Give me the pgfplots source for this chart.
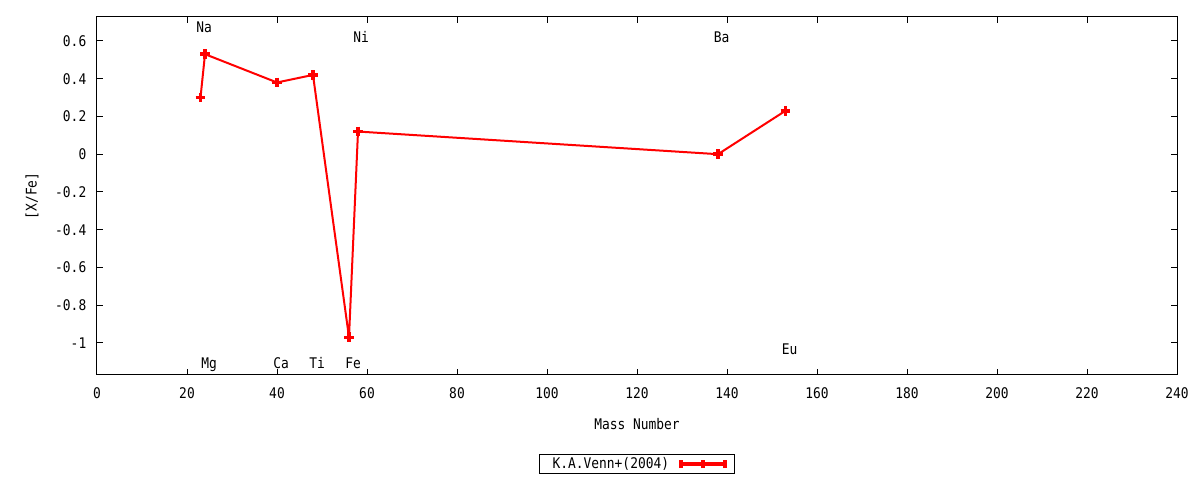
\documentclass[border=0pt]{standalone}
\usepackage{fontspec}
\setmonofont{DejaVu Sans Mono}[FakeStretch=0.88]
\usepackage{pgfplots}
\pgfplotsset{compat=1.18}
\begin{document}
\begin{tikzpicture}[font=\ttfamily\fontsize{11}{13}\selectfont]
\begin{axis}[
    name=ax,
    scale only axis,
    width=810pt, height=268.5pt,
    xmin=0, xmax=240,
    ymin=-1.17, ymax=0.727,
    xtick={0,20,40,60,80,100,120,140,160,180,200,220,240},
    xticklabels={0,20,40,60,80,100,120,140,160,180,200,220,240},
    ytick={-1,-0.8,-0.6,-0.4,-0.2,0,0.2,0.4,0.6},
    yticklabels={-1,-0.8,-0.6,-0.4,-0.2,0,0.2,0.4,0.6},
    tick align=inside,
    major tick length=4.5pt,
    axis line style={line width=0.75pt},
    every tick/.style={black, line width=0.75pt},
    xticklabel style={anchor=base, yshift=-18pt},
    yticklabel style={anchor=east, xshift=-4.5pt},
    xlabel={Mass Number},
    ylabel={[X/Fe]},
    every axis x label/.style={at={(axis description cs:0.5,-0.137)}, anchor=center},
    every axis y label/.style={at={(axis description cs:-0.0602,0.5)}, anchor=center, rotate=90},
    legend plot pos=right,
    legend style={at={(axis description cs:0.5,-0.249)}, anchor=center,
        draw=black, line width=0.75pt, inner xsep=6pt, inner ysep=0.5pt,
        nodes={inner ysep=1.5pt, inner xsep=4pt}},
    legend image code/.code={
        \path[draw=none] (0pt,0pt) rectangle (38pt,0pt);
        \draw[red, line width=2.5pt] (5pt,0pt) -- (38pt,0pt);
        \draw[red, line width=2.5pt] (5pt,-3pt) -- (5pt,3pt);
        \draw[red, line width=2.5pt] (21.5pt,-3pt) -- (21.5pt,3pt);
        \draw[red, line width=2.5pt] (38pt,-3pt) -- (38pt,3pt);
    },
]
\addplot[red, line width=1.5pt, mark=+, mark size=3.6pt,
    mark options={line width=2.6pt}] coordinates {
    (23, 0.30)
    (24, 0.53)
    (40, 0.38)
    (48, 0.42)
    (56, -0.97)
    (58, 0.12)
    (138, 0.00)
    (153, 0.23)
};
\addlegendentry{K.A.Venn+(2004)}

% element labels
\node[anchor=base] at (axis cs:23.8,0.644) {Na};
\node[anchor=base] at (axis cs:24.9,-1.138) {Mg};
\node[anchor=base] at (axis cs:40.9,-1.138) {Ca};
\node[anchor=base] at (axis cs:48.9,-1.138) {Ti};
\node[anchor=base] at (axis cs:56.9,-1.138) {Fe};
\node[anchor=base] at (axis cs:58.7,0.591) {Ni};
\node[anchor=base] at (axis cs:138.8,0.591) {Ba};
\node[anchor=base] at (axis cs:153.9,-1.064) {Eu};
\end{axis}
\pgfresetboundingbox
\path ([shift={(-72.75pt,-78.75pt)}]ax.south west) rectangle ([shift={(17.25pt,12.75pt)}]ax.north east);
\end{tikzpicture}
\end{document}
